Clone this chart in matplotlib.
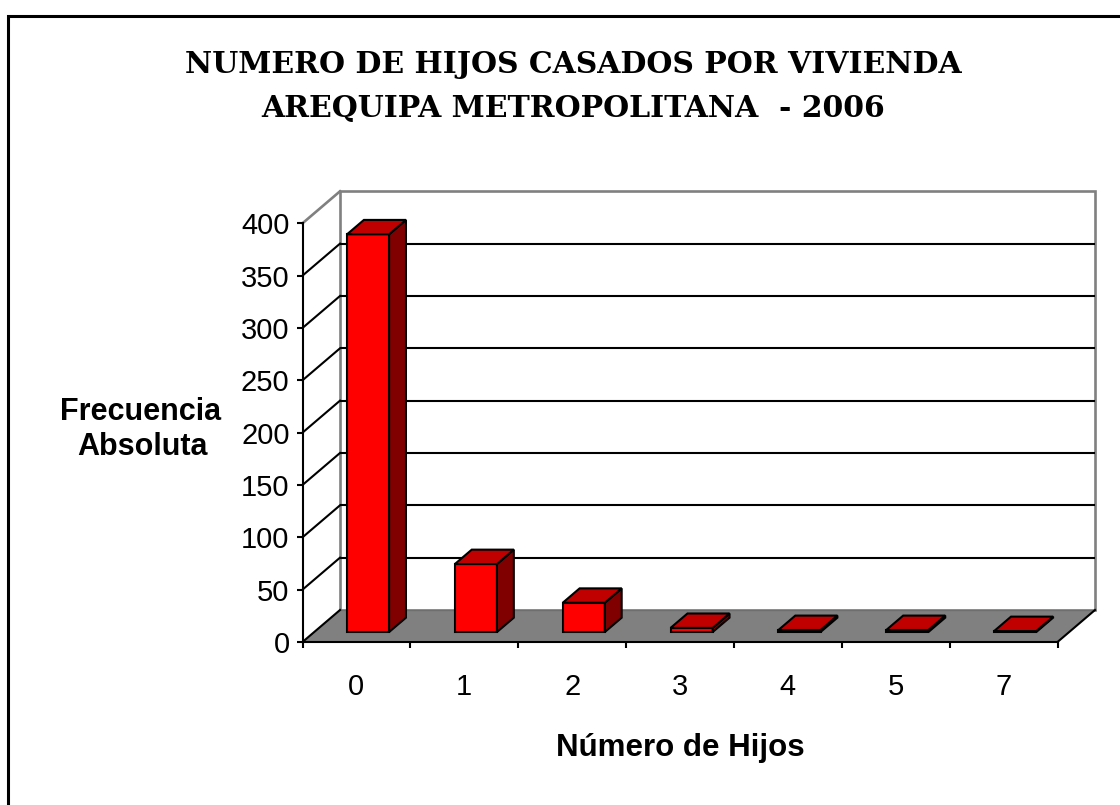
import matplotlib
matplotlib.use('Agg')
import matplotlib.pyplot as plt
from matplotlib.patches import Polygon, Rectangle
import numpy as np

# ---- data ----
categories = ['0', '1', '2', '3', '4', '5', '7']
frecuencia = [380, 65, 28, 4, 2, 2, 1]
yticks = [0, 50, 100, 150, 200, 250, 300, 350, 400]
title_l1 = 'NUMERO DE HIJOS CASADOS POR VIVIENDA'
title_l2 = 'AREQUIPA METROPOLITANA  - 2006'
ylabel_l1 = 'Frecuencia'
ylabel_l2 = 'Absoluta'
xlabel = 'Número de Hijos'

plt.rcParams['font.family'] = ['Liberation Sans', 'DejaVu Sans']

W, H = 1120, 805
fig = plt.figure(figsize=(W / 100, H / 100), dpi=100)
fig.patch.set_facecolor('white')

# front plane of the 3D box
left_px, right_px, bot_px, top_px = 302.5, 1057.5, 642.0, 223.3
ax = fig.add_axes([left_px / W, (H - bot_px) / H, (right_px - left_px) / W, (bot_px - top_px) / H])
n = len(categories)
ymax = yticks[-1]
ax.set_xlim(-0.5, n - 0.5)
ax.set_ylim(0, ymax)
ax.patch.set_visible(False)

px_per_cat = (right_px - left_px) / n
px_per_val = (bot_px - top_px) / ymax
DX = 37.5 / px_per_cat      # depth offset (data units)
DY = 32.0 / px_per_val
lw = 1.5
x0, x1 = -0.5, n - 0.5

# back wall
ax.add_patch(Polygon([(x0 + DX, DY), (x1 + DX, DY), (x1 + DX, ymax + DY), (x0 + DX, ymax + DY)],
                     closed=True, fc='white', ec='#808080', lw=1.9, clip_on=False, zorder=1))
# gridlines on back wall and left wall
for t in yticks[1:-1]:
    ax.plot([x0 + DX, x1 + DX], [t + DY, t + DY], color='black', lw=lw, clip_on=False, zorder=1.2,
            solid_capstyle='butt')
    ax.plot([x0, x0 + DX], [t, t + DY], color='black', lw=lw, clip_on=False, zorder=1.2)
# left wall top edge (grey)
ax.plot([x0, x0 + DX], [ymax, ymax + DY], color='#808080', lw=1.9, clip_on=False, zorder=1.2)
# floor
ax.add_patch(Polygon([(x0, 0), (x1, 0), (x1 + DX, DY), (x0 + DX, DY)],
                     closed=True, fc='#808080', ec='none', clip_on=False, zorder=1.5))
ax.plot([x0 + DX, x1 + DX], [DY, DY], color='#6e6e6e', lw=1.0, clip_on=False, zorder=1.6)
ax.plot([x0, x0 + DX], [0, DY], color='black', lw=lw, clip_on=False, zorder=1.6)
ax.plot([x1, x1 + DX], [0, DY], color='black', lw=lw, clip_on=False, zorder=1.6)

# bars
BW = 0.39
f1, f2 = 0.31, 0.76
for i, v in enumerate(frecuencia):
    bx0 = i - BW / 2 + f1 * DX
    bx1 = i + BW / 2 + f1 * DX
    by0 = f1 * DY
    by1 = v + f1 * DY
    ex = (f2 - f1) * DX
    ey = (f2 - f1) * DY
    kw = dict(closed=True, ec='black', lw=lw, clip_on=False, zorder=3, joinstyle='miter')
    ax.add_patch(Polygon([(bx0, by0), (bx1, by0), (bx1, by1), (bx0, by1)], fc='#FF0000', **kw))
    ax.add_patch(Polygon([(bx1, by0), (bx1 + ex, by0 + ey), (bx1 + ex, by1 + ey), (bx1, by1)],
                         fc='#800000', **kw))
    ax.add_patch(Polygon([(bx0, by1), (bx1, by1), (bx1 + ex, by1 + ey), (bx0 + ex, by1 + ey)],
                         fc='#C00000', **kw))

# axes / ticks
for s in ['top', 'right']:
    ax.spines[s].set_visible(False)
for s in ['left', 'bottom']:
    ax.spines[s].set_linewidth(lw)
    ax.spines[s].set_color('black')
    ax.spines[s].set_zorder(2.5)
ax.set_yticks(yticks)
ax.set_yticklabels([str(t) for t in yticks])
ax.tick_params(axis='y', direction='out', length=4.3, width=lw, labelsize=21, pad=5.0, colors='black')
ax.set_xticks(range(n))
ax.set_xticklabels(categories)
ax.set_xticks(np.arange(-0.5, n), minor=True)
ax.tick_params(axis='x', which='major', length=0, labelsize=21, pad=22)
ax.tick_params(axis='x', which='minor', direction='out', length=4.3, width=lw)

# texts
def ftext(x, y, s, **kw):
    fig.text(x / W, 1 - y / H, s, **kw)

ftext(573, 73.3, title_l1, family=['DejaVu Serif'], fontsize=21.5, fontweight='bold',
      ha='center', va='baseline')
ftext(573, 116.7, title_l2, family=['DejaVu Serif'], fontsize=21.5, fontweight='bold',
      ha='center', va='baseline')
ftext(141, 420, ylabel_l1, fontsize=22, fontweight='bold', ha='center', va='baseline')
ftext(142, 455, ylabel_l2, fontsize=22, fontweight='bold', ha='center', va='baseline')
ftext(680, 756, xlabel, fontsize=22.5, fontweight='bold', ha='center', va='baseline')

# outer border (extends past right and bottom edges)
fig.patches.append(Rectangle((8 / W, -0.2), 1.2, 1.2 - 16 / H, transform=fig.transFigure,
                             fill=False, ec='black', lw=2.2, zorder=10))

fig.savefig('out.png', dpi=100, facecolor='white')
